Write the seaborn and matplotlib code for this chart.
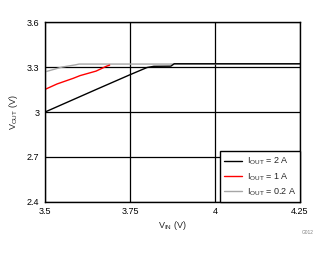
import matplotlib
matplotlib.use("Agg")
import matplotlib.pyplot as plt
import seaborn as sns
import pandas as pd

# Data
x_2a = [3.5, 3.65, 3.75, 3.8, 3.82, 3.87, 3.88, 4.25]
y_2a = [3.0, 3.15, 3.249, 3.297, 3.305, 3.306, 3.322, 3.322]
x_1a = [3.5, 3.535, 3.583, 3.603, 3.65, 3.68, 3.69]
y_1a = [3.151, 3.187, 3.225, 3.243, 3.273, 3.305, 3.313]
x_02a = [3.5, 3.55, 3.59, 3.6, 4.25]
y_02a = [3.268, 3.30, 3.315, 3.32, 3.32]
series_labels = ["I$_{\\mathregular{OUT}}$ = 2 A", "I$_{\\mathregular{OUT}}$ = 1 A", "I$_{\\mathregular{OUT}}$ = 0.2 A"]
xticks = [3.5, 3.75, 4, 4.25]
xtick_labels = ["3.5", "3.75", "4", "4.25"]
yticks = [2.4, 2.7, 3.0, 3.3, 3.6]
ytick_labels = ["2.4", "2.7", "3", "3.3", "3.6"]

sns.set_theme(style="white")
plt.rcParams["font.family"] = ["Liberation Sans", "DejaVu Sans"]
plt.rcParams["mathtext.fontset"] = "custom"
plt.rcParams["mathtext.rm"] = "Liberation Sans"

df = pd.concat([
    pd.DataFrame({"x": x_2a, "y": y_2a, "s": series_labels[0]}),
    pd.DataFrame({"x": x_1a, "y": y_1a, "s": series_labels[1]}),
    pd.DataFrame({"x": x_02a, "y": y_02a, "s": series_labels[2]}),
])

fig = plt.figure(figsize=(3.29, 2.54), dpi=100)
ax = fig.add_axes([0.137, 0.205, 0.775, 0.708])

palette = {series_labels[0]: "black", series_labels[1]: "#ff0000", series_labels[2]: "#a6a6a6"}
# draw gray first, then red, then black on top
for lab in [series_labels[2], series_labels[1], series_labels[0]]:
    sub = df[df["s"] == lab]
    sns.lineplot(data=sub, x="x", y="y", ax=ax, color=palette[lab], lw=1.0,
                 estimator=None, sort=False, label=lab)

ax.set_xlim(3.5, 4.25)
ax.set_ylim(2.4, 3.6)
ax.set_xticks(xticks)
ax.set_xticklabels(xtick_labels)
ax.set_yticks(yticks)
ax.set_yticklabels(ytick_labels)
ax.tick_params(axis="both", length=0, labelsize=6.5, colors="black", pad=4)
ax.grid(True, color="black", lw=0.9)
for sp in ax.spines.values():
    sp.set_color("black")
    sp.set_linewidth(1.0)
ax.set_xlabel("V$_{\\mathregular{IN}}$ (V)", fontsize=6.5, labelpad=2)
ax.set_ylabel("V$_{\\mathregular{OUT}}$ (V)", fontsize=6.5, labelpad=5)

handles, labels = ax.get_legend_handles_labels()
order = [labels.index(l) for l in series_labels]
leg = ax.legend([handles[i] for i in order], [labels[i] for i in order],
                loc="lower right", fontsize=6.5, frameon=True, fancybox=False,
                borderaxespad=0, handlelength=2.0, handletextpad=0.5,
                labelspacing=0.3, borderpad=0.45)
leg.get_frame().set_edgecolor("black")
leg.get_frame().set_linewidth(1.0)
leg.get_frame().set_alpha(1)

fig.text(0.955, 0.08, "G012", fontsize=3.5, color="#808080", ha="right")

fig.savefig("out.png", dpi=100)
